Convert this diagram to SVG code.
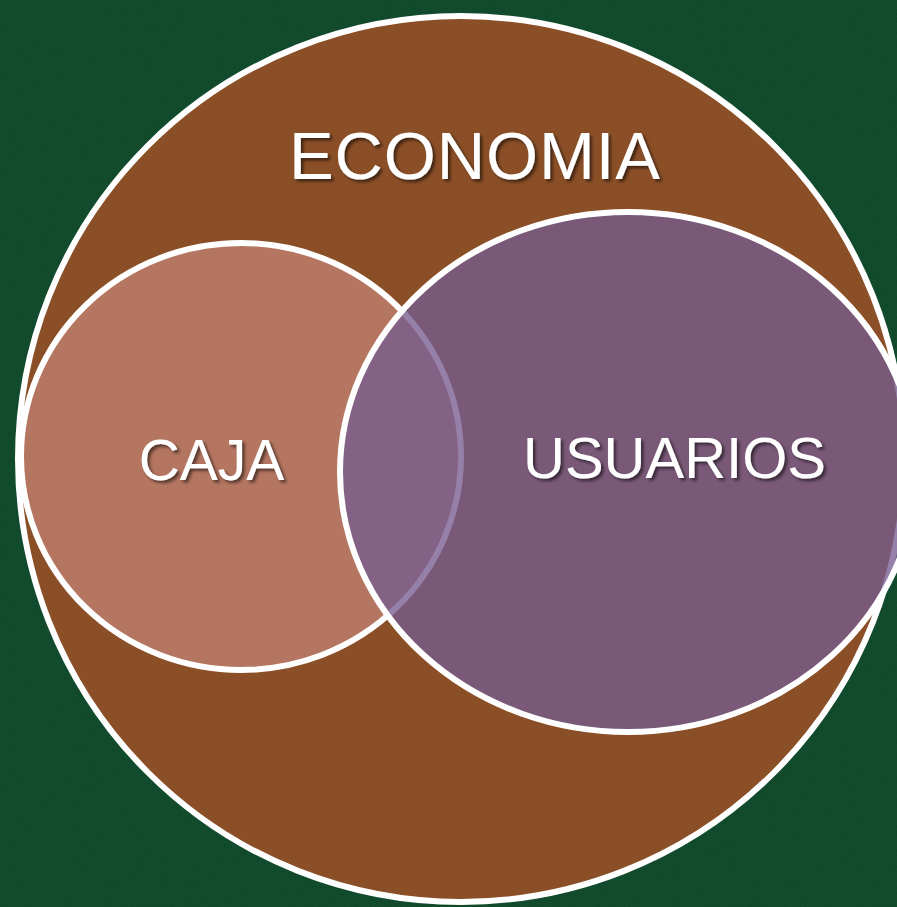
<svg xmlns="http://www.w3.org/2000/svg" width="897" height="907" viewBox="0 0 897 907">
  <defs>
    <filter id="shadow" x="-10%" y="-30%" width="120%" height="160%">
      <feDropShadow dx="2.5" dy="2.5" stdDeviation="1.5" flood-color="#000000" flood-opacity="0.55"/>
    </filter>
    <filter id="grain" x="0" y="0" width="100%" height="100%">
      <feTurbulence type="fractalNoise" baseFrequency="0.9" numOctaves="2" seed="3" result="n"/>
      <feColorMatrix in="n" type="matrix" values="0 0 0 0 0.12  0 0 0 0 0.35  0 0 0 0 0.2  0 0 0 0.12 0" result="c"/>
      <feComposite in="c" in2="SourceGraphic" operator="in"/>
    </filter>
  </defs>
  <style>
    .lbl { font-family: "Liberation Sans", Arial, sans-serif; fill: #ffffff; text-anchor: middle; filter: url(#shadow); }
    .ring { stroke: #ffffff; stroke-width: 6; }
  </style>
  <rect x="0" y="0" width="897" height="907" fill="#0c4527"/>
  <rect x="0" y="0" width="897" height="907" fill="#0c4527" filter="url(#grain)"/>

  <g id="economia">
    <circle class="ring" cx="461" cy="459" r="443" fill="#8b4f27"/>
    <text class="lbl" x="474.5" y="179" font-size="67" textLength="371" lengthAdjust="spacing">ECONOMIA</text>
  </g>

  <g id="caja">
    <ellipse class="ring" cx="241" cy="456.5" rx="220" ry="213.5" fill="#b57661"/>
  </g>

  <g id="usuarios">
    <ellipse cx="628" cy="472" rx="288" ry="260" fill="#765c8f" fill-opacity="0.78" stroke="none"/>
    <ellipse cx="628" cy="472" rx="288" ry="260" fill="none" stroke="#ffffff" stroke-width="6"/>
  </g>

  <g id="labels">
    <text class="lbl" x="211.5" y="480" font-size="57">CAJA</text>
    <text class="lbl" x="674.5" y="478" font-size="58">USUARIOS</text>
  </g>
</svg>
